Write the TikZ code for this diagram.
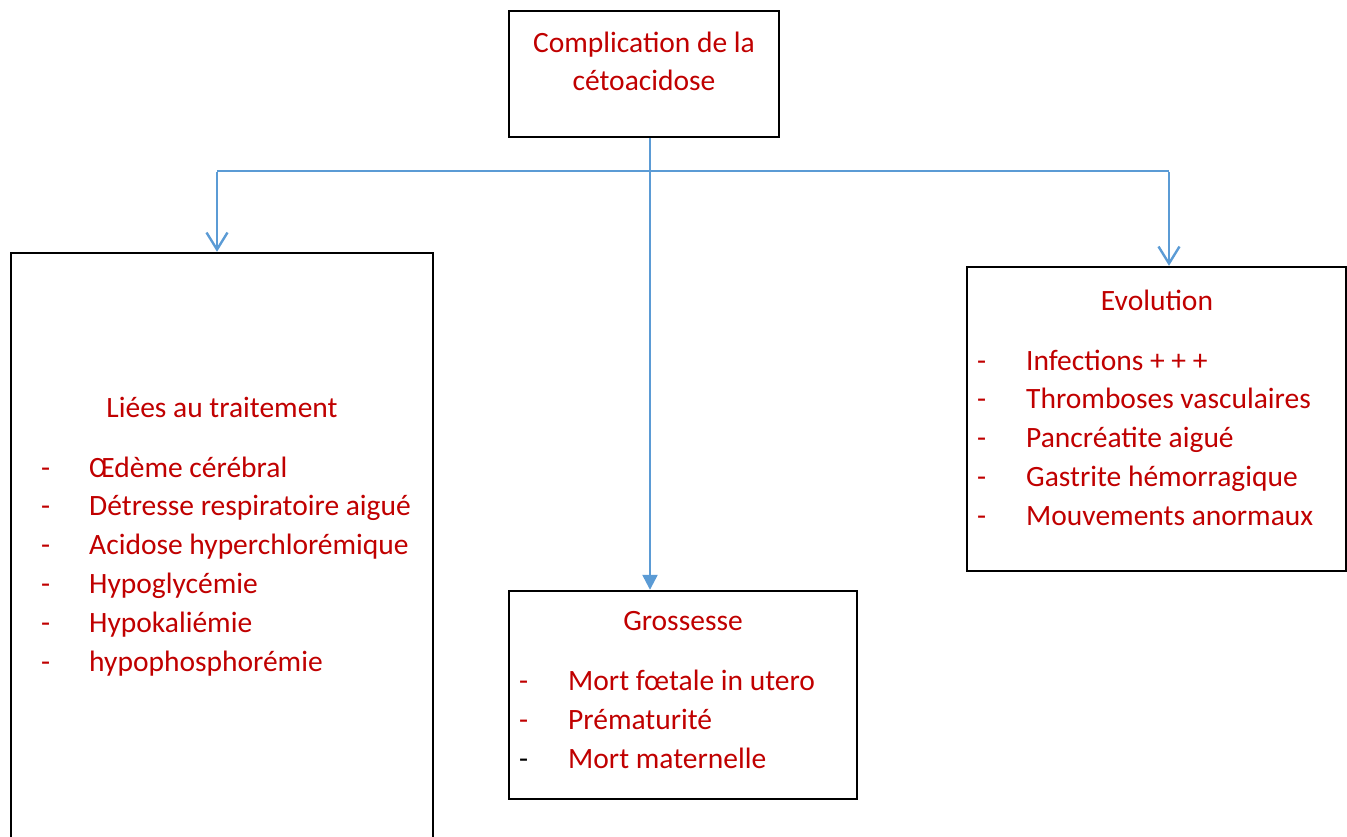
\documentclass[tikz,border=0pt]{standalone}
\usepackage{fontspec}
\setmainfont{Carlito}
\usetikzlibrary{arrows.meta}
\definecolor{txtred}{HTML}{C00000}
\definecolor{linkblue}{HTML}{5B9BD5}
\begin{document}
\begin{tikzpicture}[x=1pt,y=-1pt,
			box/.style = {draw, line width=2.4pt, inner sep=0pt},
			title/.style = {text=txtred, font=\fontsize{29.5}{38}\selectfont, anchor=base, inner sep=0pt},
			item/.style = {text=txtred, font=\fontsize{29.5}{38}\selectfont, anchor=base west, inner sep=0pt},
			link/.style = {draw=linkblue, line width=2.4pt}]
			
			\clip (0,0) rectangle (1347,837);
			% boxes
			\node[box, minimum width=270pt, minimum height=126pt] (top) at (644,74) {};
			\node[box, minimum width=422pt, minimum height=660pt] (liees) at (222,583) {};
			\node[box, minimum width=348pt, minimum height=208pt] (gross) at (683,695) {};
			\node[box, minimum width=379pt, minimum height=304pt] (evol) at (1156.5,419) {};
			
			% texts
			\node[title] (top1) at (644,53) {Complication de la};
			\node[title] (top2) at (644,91) {cétoacidose};
			\node[title] (lieest) at (222,417) {Liées au traitement};
			\node[title] (grosst) at (683,630) {Grossesse};
			\node[title] (evolt) at (1157,310) {Evolution};
			
			\foreach \txt [count=\i] in {Œdème cérébral, Détresse respiratoire aigué,
				Acidose hyperchlorémique, Hypoglycémie, Hypokaliémie, hypophosphorémie}
			{
				\node[item] (ld\i) at (41,{477+38.8*(\i-1)}) {-};
				\node[item] (l\i) at (89,{477+38.8*(\i-1)}) {\txt};
			}
			\foreach \txt [count=\i] in {Mort fœtale in utero, Prématurité}
			{
				\node[item] (gd\i) at (519,{690+39*(\i-1)}) {-};
				\node[item] (g\i) at (568,{690+39*(\i-1)}) {\txt};
			}
			\node[item, text=black] (gd3) at (519,768) {-};
			\node[item] (g3) at (568,768) {Mort maternelle};
			\foreach \txt [count=\i] in {Infections + + +, Thromboses vasculaires,
				Pancréatite aigué, Gastrite hémorragique, Mouvements anormaux}
			{
				\node[item] (ed\i) at (977,{370+38.8*(\i-1)}) {-};
				\node[item] (e\i) at (1026,{370+38.8*(\i-1)}) {\txt};
			}
			
			% connectors
			\coordinate (hub) at (650,171);
			\coordinate (lhub) at (217,171);
			\coordinate (rhub) at (1169,171);
			\draw[link, -{Triangle[length=15pt,width=15pt]}] (top.south -| hub) -- (gross.north -| hub);
			\draw[link, line width=1.4pt] (lhub) -- (rhub);
			\draw[link, -{Straight Barb[length=17pt,width=21pt]}] ([yshift=-0.6pt]lhub) -- (liees.north -| lhub);
			\draw[link, -{Straight Barb[length=17pt,width=21pt]}] ([yshift=-0.6pt]rhub) -- (evol.north -| rhub);
			\end{tikzpicture}
\end{document}
